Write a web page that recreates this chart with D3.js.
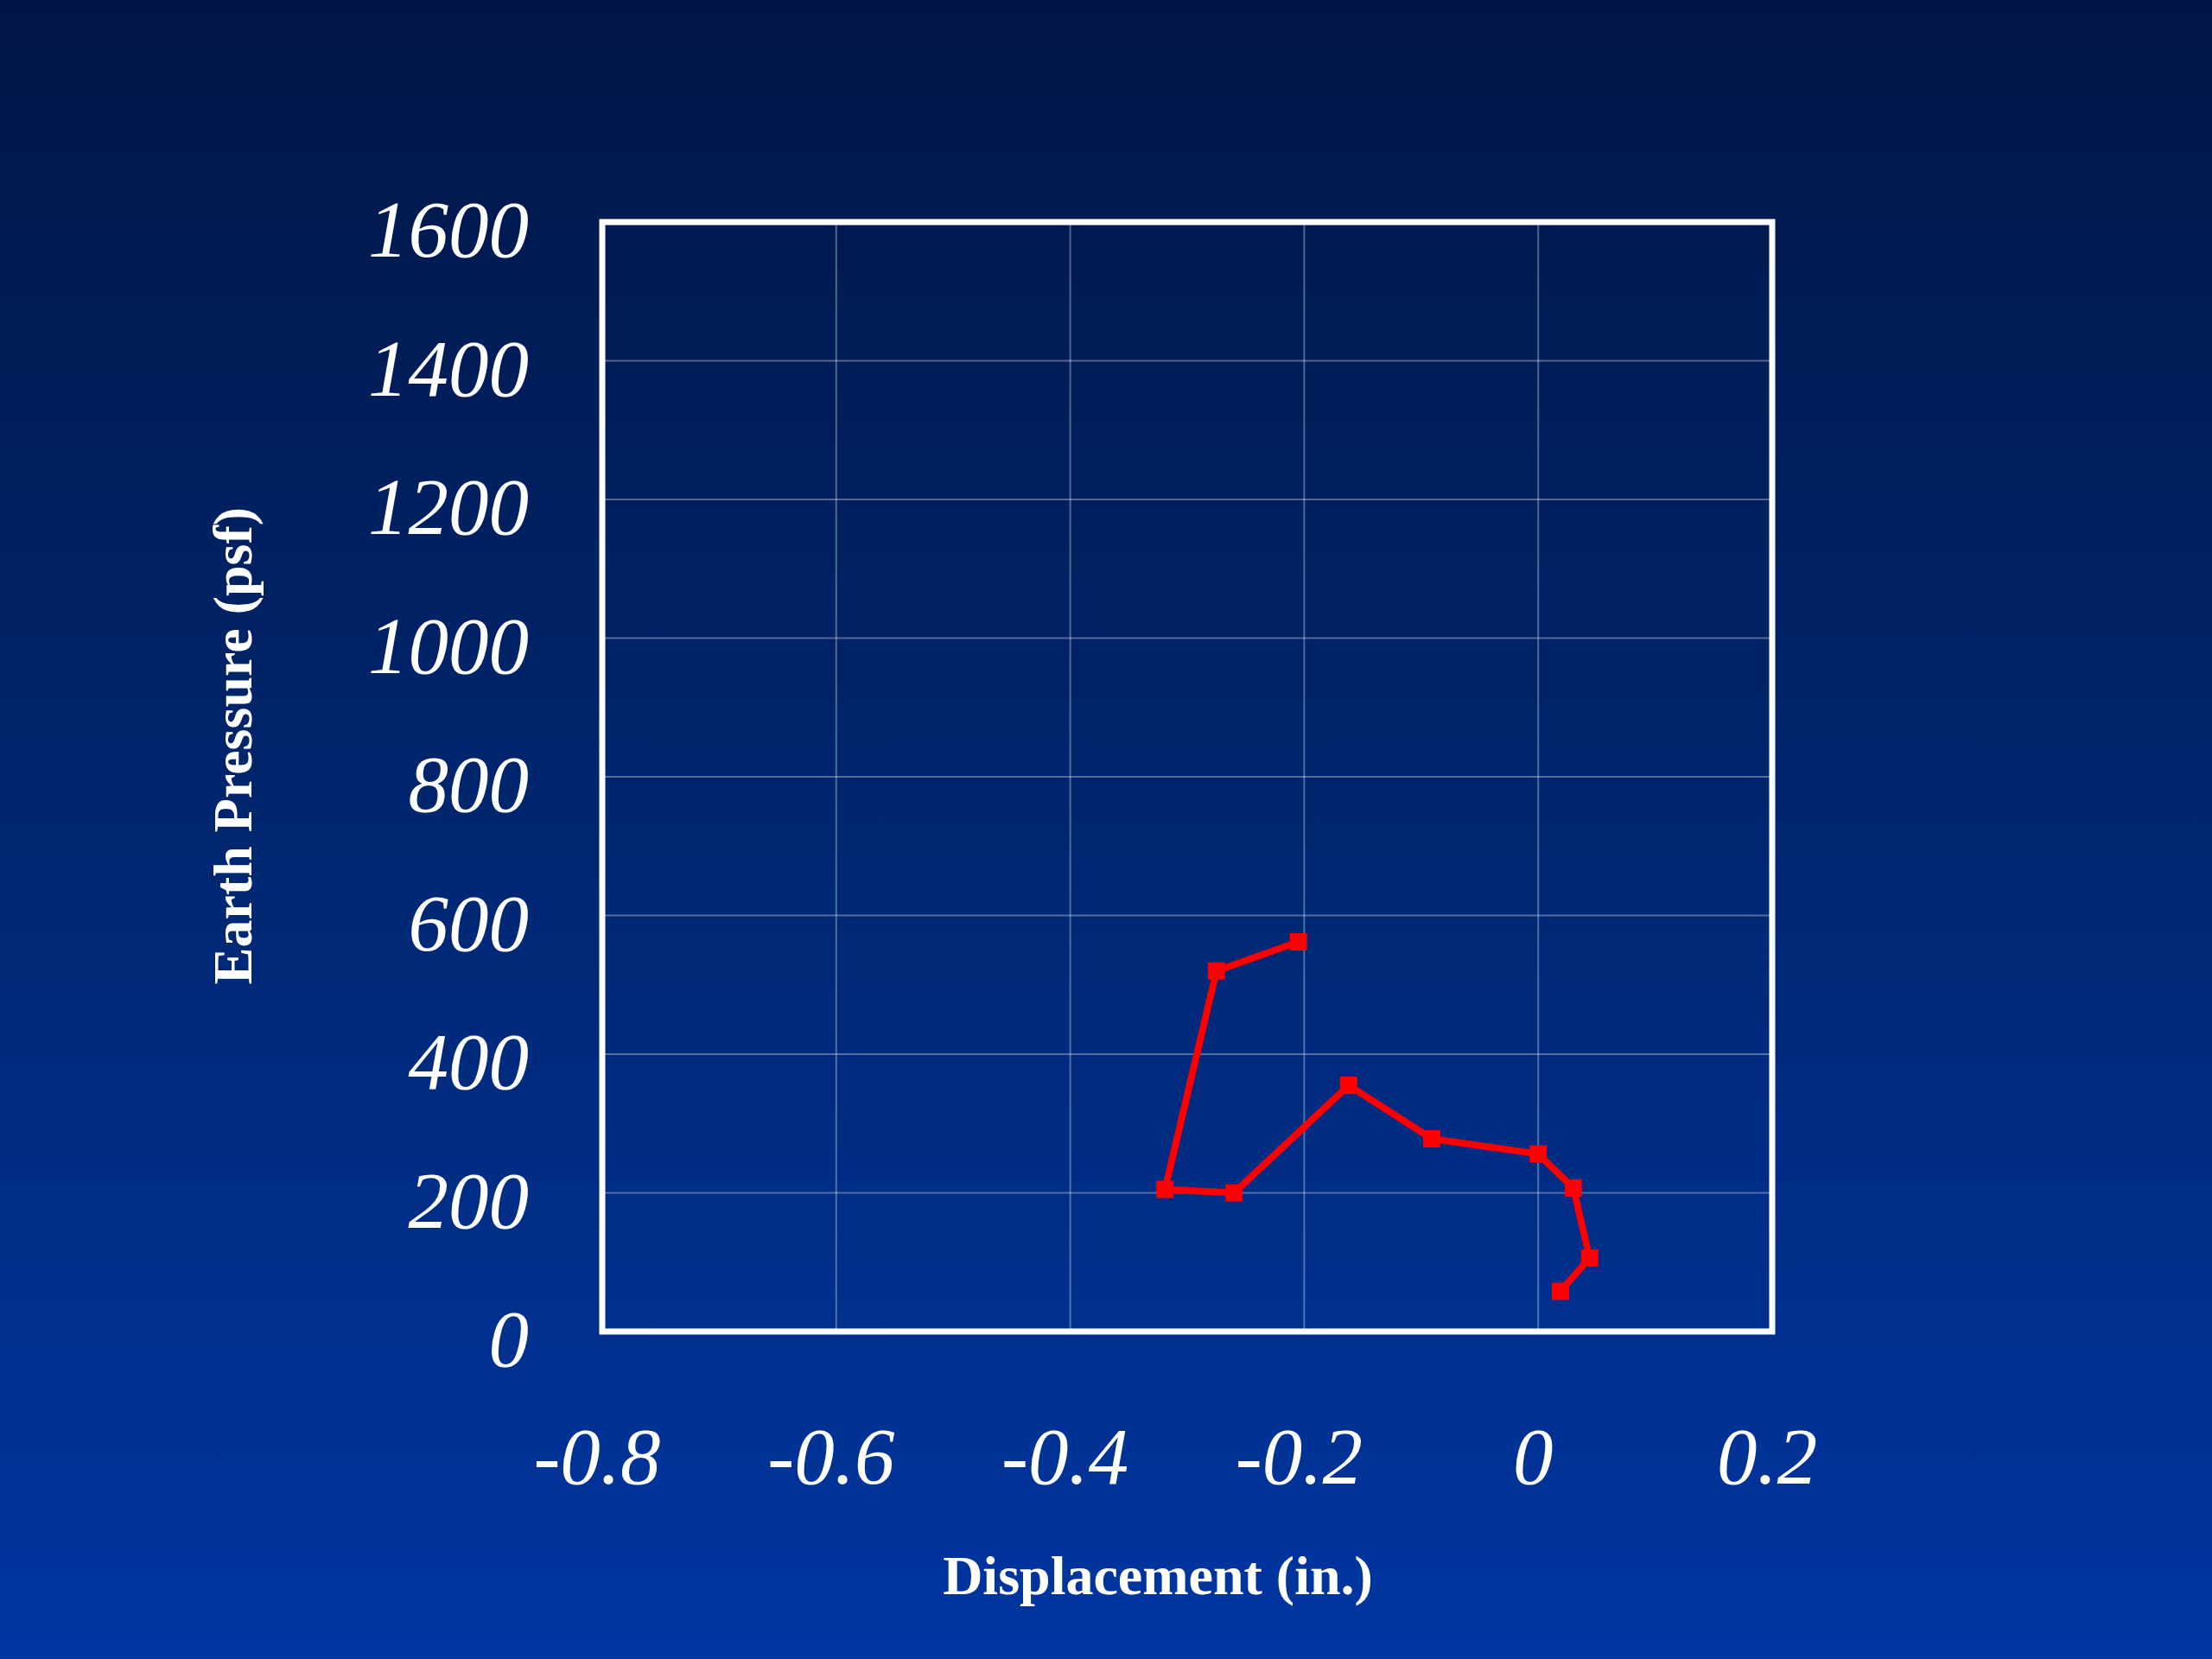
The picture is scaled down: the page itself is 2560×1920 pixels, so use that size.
<!DOCTYPE html>
<html>
<head>
<meta charset="utf-8">
<script src="https://cdn.jsdelivr.net/npm/d3@7"></script>
<style>
html,body{margin:0;padding:0;background:#001848;}
svg{display:block;}
</style>
</head>
<body>
<script>
// Data
const displacement = [-0.205, -0.275, -0.319, -0.260, -0.162, -0.091, 0.000, 0.030, 0.044, 0.019];
const earthPressure = [562, 520, 205, 200, 355, 278, 256, 207, 106, 58];
const xTicks = [-0.8, -0.6, -0.4, -0.2, 0, 0.2];
const yTicks = [0, 200, 400, 600, 800, 1000, 1200, 1400, 1600];
const xTickLabels = ["-0.8", "-0.6", "-0.4", "-0.2", "0", "0.2"];
const yTickLabels = ["0", "200", "400", "600", "800", "1000", "1200", "1400", "1600"];
const xTitle = "Displacement (in.)";
const yTitle = "Earth Pressure (psf)";

const W = 2560, H = 1920;
const plot = {left: 697, right: 2051, top: 257, bottom: 1541};

const svg = d3.select("body").append("svg").attr("width", W).attr("height", H);

const defs = svg.append("defs");
const grad = defs.append("linearGradient").attr("id", "bg").attr("x1", 0).attr("y1", 0).attr("x2", 0).attr("y2", 1);
grad.append("stop").attr("offset", "0%").attr("stop-color", "#001646");
grad.append("stop").attr("offset", "50%").attr("stop-color", "#00266f");
grad.append("stop").attr("offset", "100%").attr("stop-color", "#0036a2");
svg.append("rect").attr("width", W).attr("height", H).attr("fill", "url(#bg)");

const x = d3.scaleLinear().domain([-0.8, 0.2]).range([plot.left, plot.right]);
const y = d3.scaleLinear().domain([0, 1600]).range([plot.bottom, plot.top]);

// Grid lines
const grid = svg.append("g").attr("stroke", "rgba(255,255,255,0.32)").attr("stroke-width", 2);
grid.selectAll(".vg").data(xTicks.slice(1, -1)).join("line")
  .attr("x1", d => x(d)).attr("x2", d => x(d))
  .attr("y1", plot.top).attr("y2", plot.bottom);
grid.selectAll(".hg").data(yTicks.slice(1, -1)).join("line")
  .attr("x1", plot.left).attr("x2", plot.right)
  .attr("y1", d => y(d)).attr("y2", d => y(d));

// Frame
svg.append("rect")
  .attr("x", plot.left).attr("y", plot.top)
  .attr("width", plot.right - plot.left).attr("height", plot.bottom - plot.top)
  .attr("fill", "none").attr("stroke", "#ffffff").attr("stroke-width", 7);

// Tick labels
const tickFont = "'Liberation Serif', 'Times New Roman', serif";
svg.append("g").selectAll("text").data(xTicks).join("text")
  .attr("x", d => x(d) - 6)
  .attr("y", plot.bottom + 176)
  .attr("text-anchor", "middle")
  .attr("font-family", tickFont).attr("font-style", "italic")
  .attr("font-size", 93).attr("fill", "#ffffff")
  .text((d, i) => xTickLabels[i]);

svg.append("g").selectAll("text").data(yTicks).join("text")
  .attr("x", plot.left - 85)
  .attr("y", d => y(d) + 40)
  .attr("text-anchor", "end")
  .attr("font-family", tickFont).attr("font-style", "italic")
  .attr("font-size", 93).attr("fill", "#ffffff")
  .text((d, i) => yTickLabels[i]);

// Axis titles
svg.append("text")
  .attr("x", 1340).attr("y", 1845)
  .attr("text-anchor", "middle")
  .attr("font-family", tickFont).attr("font-weight", "bold")
  .attr("font-size", 64).attr("fill", "#ffffff")
  .text(xTitle);

svg.append("text")
  .attr("transform", "translate(291,863) rotate(-90)")
  .attr("text-anchor", "middle")
  .attr("font-family", tickFont).attr("font-weight", "bold")
  .attr("font-size", 64).attr("fill", "#ffffff")
  .text(yTitle);

// Data line
const pts = displacement.map((d, i) => [d, earthPressure[i]]);
svg.append("path")
  .datum(pts)
  .attr("fill", "none").attr("stroke", "#ff0000").attr("stroke-width", 8)
  .attr("stroke-linejoin", "round")
  .attr("d", d3.line().x(d => x(d[0])).y(d => y(d[1])));

const ms = 20;
svg.append("g").selectAll("rect").data(pts).join("rect")
  .attr("x", d => x(d[0]) - ms / 2).attr("y", d => y(d[1]) - ms / 2)
  .attr("width", ms).attr("height", ms)
  .attr("fill", "#ff0000");
</script>
</body>
</html>
